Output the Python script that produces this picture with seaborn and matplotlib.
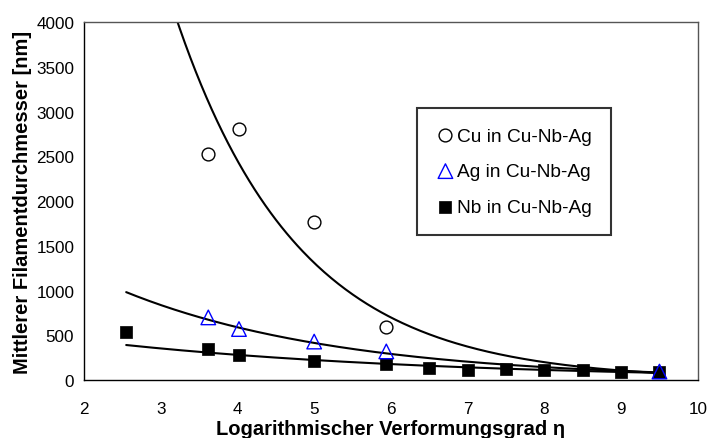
import numpy as np
import pandas as pd
import matplotlib
matplotlib.use("Agg")
import matplotlib.pyplot as plt
import seaborn as sns

# Data
cu_x = [3.62, 4.02, 5.0, 5.94]
cu_y = [2525, 2810, 1770, 590]
ag_x = [3.62, 4.02, 5.0, 5.94, 9.5]
ag_y = [700, 570, 430, 320, 95]
nb_x = [2.55, 3.62, 4.02, 5.0, 5.94, 6.5, 7.0, 7.5, 8.0, 8.5, 9.0, 9.5]
nb_y = [535, 350, 280, 215, 175, 135, 110, 125, 110, 110, 90, 85]

# Exponential trend lines y = A * exp(-b x)
cu_fit = (30100, 0.627)
ag_fit = (2410, 0.352)
nb_fit = (700, 0.228)
fit_range = (2.55, 9.5)

sns.set_theme(style="white")
plt.rcParams['font.family'] = ['Liberation Sans', 'DejaVu Sans']
plt.rcParams['text.color'] = 'black'
plt.rcParams['axes.labelcolor'] = 'black'

fig = plt.figure(figsize=(7.07, 4.39), dpi=100)
ax = fig.add_axes([0.1188, 0.132, 0.8682, 0.8156])

xs = np.linspace(fit_range[0], fit_range[1], 300)
for (A, b) in (cu_fit, ag_fit, nb_fit):
    d = pd.DataFrame({"x": xs, "y": A * np.exp(-b * xs)})
    sns.lineplot(data=d, x="x", y="y", ax=ax, color="black", lw=1.5, legend=False)

sns.scatterplot(x=cu_x, y=cu_y, ax=ax, marker="o", s=85, facecolor="white",
                edgecolor="black", linewidth=1.0, label="Cu in Cu-Nb-Ag", zorder=3)
sns.scatterplot(x=nb_x, y=nb_y, ax=ax, marker="s", s=75, color="black",
                edgecolor="black", linewidth=0.5, label="Nb in Cu-Nb-Ag", zorder=4)
sns.scatterplot(x=ag_x, y=ag_y, ax=ax, marker="^", s=110, facecolor="none",
                edgecolor="blue", linewidth=1.0, label="Ag in Cu-Nb-Ag", zorder=5)

ax.set_xlim(2, 10)
ax.set_ylim(0, 4000)
ax.set_xticks(range(2, 11))
ax.set_yticks(range(0, 4001, 500))
ax.tick_params(axis='x', direction='inout', length=8, width=1, labelsize=12.3, pad=11,
               colors='black', labelcolor='black')
ax.tick_params(axis='y', direction='out', length=5, width=1, labelsize=12.3, pad=2,
               colors='black', labelcolor='black')
for s in ax.spines.values():
    s.set_color('black')
    s.set_linewidth(1.0)
ax.spines['top'].set_color('#555555')
ax.spines['right'].set_color('#555555')

ax.set_xlabel("Logarithmischer Verformungsgrad η", fontsize=14.5, fontweight='bold',
              labelpad=2, color='black')
ax.set_ylabel("Mittlerer Filamentdurchmesser [nm]", fontsize=14.5, fontweight='bold',
              labelpad=3, color='black')

handles, labels = ax.get_legend_handles_labels()
order = [labels.index(l) for l in ["Cu in Cu-Nb-Ag", "Ag in Cu-Nb-Ag", "Nb in Cu-Nb-Ag"]]
leg = ax.legend([handles[i] for i in order], [labels[i] for i in order],
                loc='upper left', bbox_to_anchor=(0.542, 0.76), frameon=True,
                fancybox=False, edgecolor='black', fontsize=13.8, handletextpad=0.1,
                labelspacing=0.95, borderpad=1.0, handlelength=1.0, borderaxespad=0)
leg.get_frame().set_linewidth(1.5)
for t in leg.get_texts():
    t.set_color('black')

fig.savefig("out.png", dpi=100)
